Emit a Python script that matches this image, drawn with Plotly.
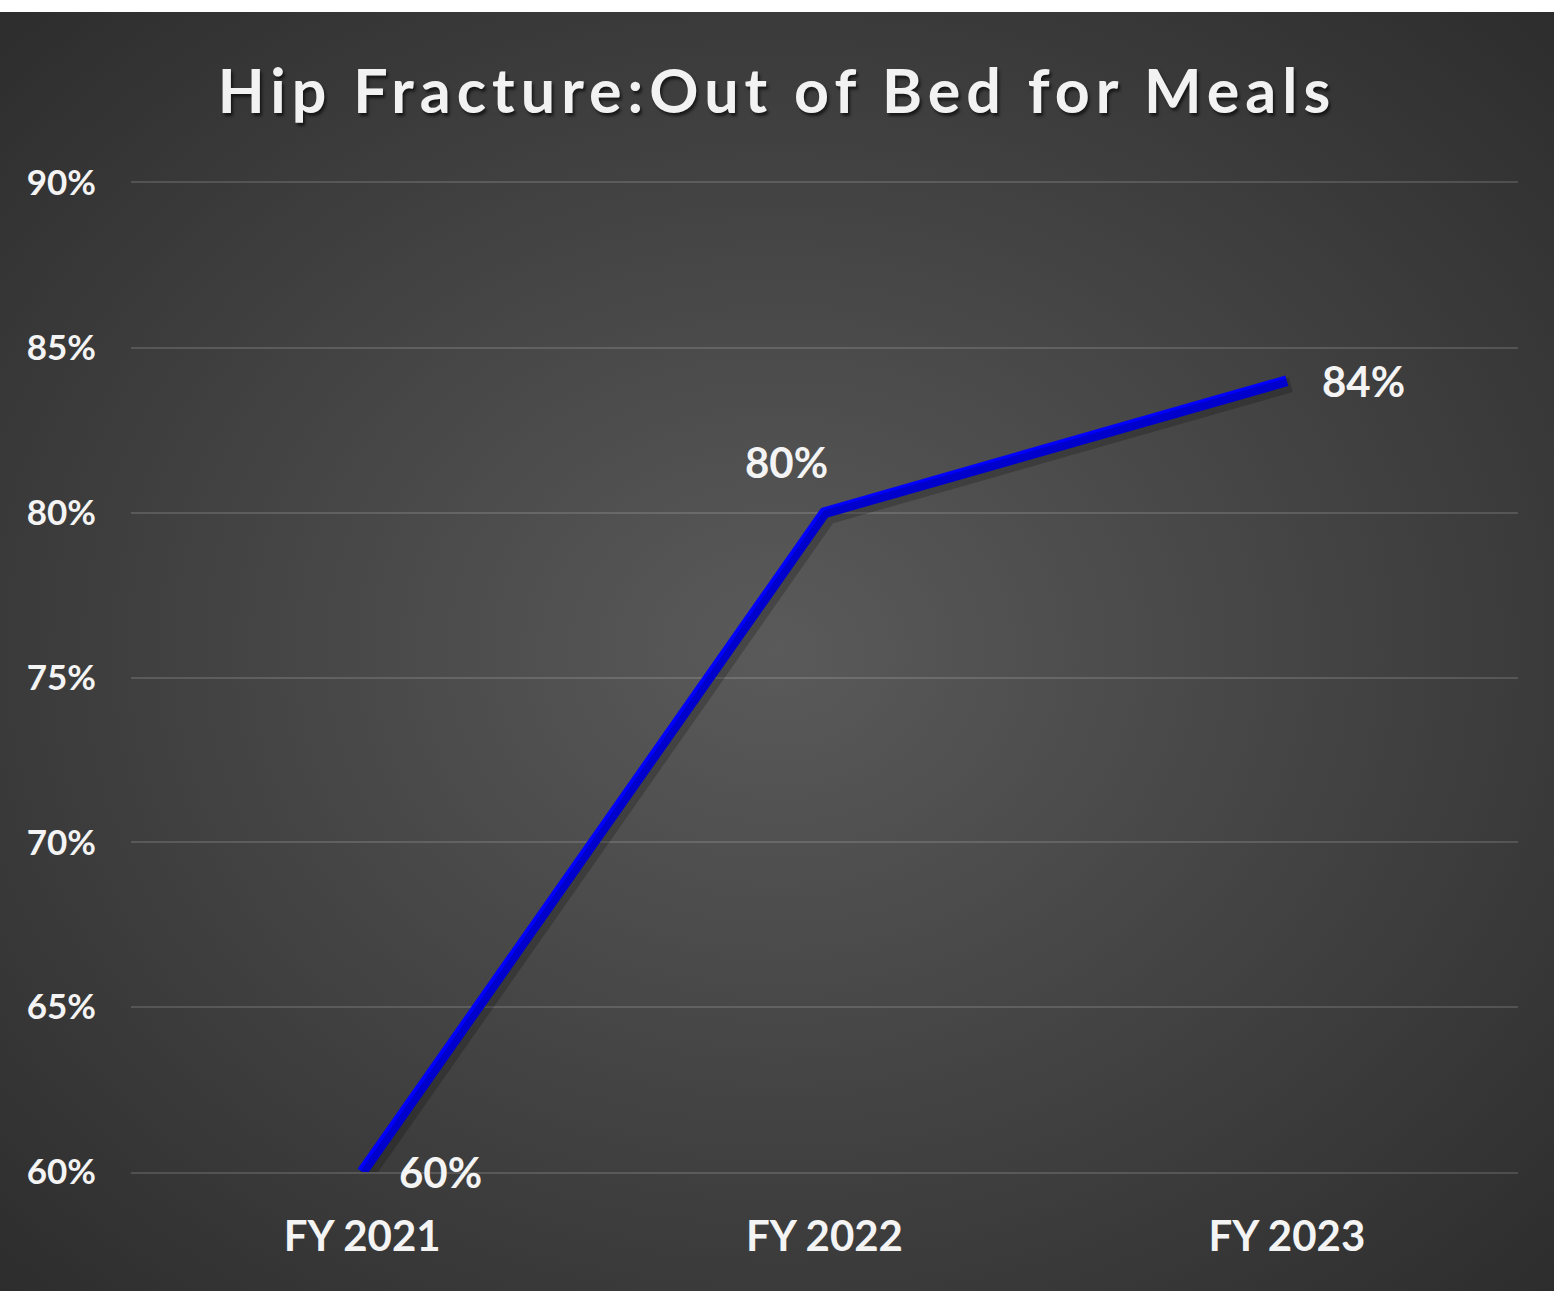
import base64
import plotly.graph_objects as go

categories = ["FY 2021", "FY 2022", "FY 2023"]
values = [0.60, 0.80, 0.84]
labels = ["60%", "80%", "84%"]
y_ticks = [0.60, 0.65, 0.70, 0.75, 0.80, 0.85, 0.90]
y_tick_text = ["60%", "65%", "70%", "75%", "80%", "85%", "90%"]

W, H = 1554, 1291
L, R, T, B = 131, 36, 183, 119
pw, ph = W - L - R, H - T - B
TOP_WHITE = 12
GRID = "rgba(255,255,255,0.14)"

svg = f"""<svg xmlns='http://www.w3.org/2000/svg' width='{W}' height='{H-TOP_WHITE}' viewBox='0 0 {W} {H-TOP_WHITE}' preserveAspectRatio='none'>
<defs><radialGradient id='g' cx='0.5' cy='0.5' r='0.72' gradientUnits='objectBoundingBox'>
<stop offset='0' stop-color='#5a5a5a'/><stop offset='1' stop-color='#2c2c2c'/></radialGradient></defs>
<rect x='0' y='0' width='{W}' height='{H-TOP_WHITE}' fill='url(#g)'/></svg>"""
src = "data:image/svg+xml;base64," + base64.b64encode(svg.encode()).decode()

fig = go.Figure()

# soft shadow under the line
fig.add_trace(go.Scatter(x=categories, y=values, mode="lines", xaxis="x2", yaxis="y2",
                         line=dict(color="rgba(0,0,0,0.2)", width=15),
                         hoverinfo="skip", showlegend=False))
fig.add_trace(go.Scatter(x=categories, y=values, mode="lines",
                         line=dict(color="#0000ff", width=11),
                         showlegend=False))

font_lbl = dict(family="Lato", size=42, color="#f4f4f4", weight="bold")
shifts = [(78, 0), (-38, 51), (77, 0)]
for c, v, t, (dx, dy) in zip(categories, values, labels, shifts):
    fig.add_annotation(x=c, y=v, text=t, showarrow=False, xshift=dx, yshift=dy,
                       font=font_lbl, xanchor="center", yanchor="middle")

fig.add_layout_image(dict(source=src, xref="paper", yref="paper",
                          x=-L / pw, y=(H - B - TOP_WHITE) / ph,
                          sizex=W / pw, sizey=(H - TOP_WHITE) / ph,
                          xanchor="left", yanchor="top", sizing="stretch", layer="below"))

xshift_u = 4 / (pw / 3)
yshift_u = 4 / (ph / 0.30)

fig.update_layout(
    width=W, height=H,
    margin=dict(l=L, r=R, t=T, b=B),
    paper_bgcolor="white",
    plot_bgcolor="rgba(0,0,0,0)",
    title=dict(text="Hip Fracture:Out of Bed for Meals", x=0.5, xref="container", xanchor="center",
               y=(H - 92) / H, yanchor="middle",
               font=dict(family="Lato", size=61, color="#f2f2f2", weight="bold",
                         shadow="2px 3px 3px rgba(0,0,0,0.6)")),
    xaxis=dict(type="category", range=[-0.5, 2.5], showgrid=False, zeroline=False,
               showline=True, mirror=True, linecolor=GRID, linewidth=2,
               ticks="", ticklabelstandoff=27,
               tickfont=dict(family="Lato", size=42, color="#f4f4f4", weight="bold")),
    yaxis=dict(range=[0.60, 0.90], tickvals=y_ticks, ticktext=y_tick_text,
               showgrid=True, gridcolor=GRID, gridwidth=2,
               zeroline=False, showline=False, ticks="", ticklabelstandoff=34,
               tickfont=dict(family="Lato", size=35, color="#f4f4f4", weight="bold")),
    xaxis2=dict(type="category", overlaying="x", range=[-0.5 - xshift_u, 2.5 - xshift_u],
                visible=False),
    yaxis2=dict(overlaying="y", range=[0.60 + yshift_u, 0.90 + yshift_u], visible=False),
)

post = """
document.body.style.margin='0';
var gd=document.getElementById('{plot_id}');
function ls(){ gd.querySelectorAll('.gtitle').forEach(function(e){ e.style.letterSpacing='6px'; }); }
ls(); setTimeout(ls, 0); setTimeout(ls, 200);
if (gd.on) { gd.on('plotly_afterplot', ls); }
"""

fig.write_html("out.html", post_script=post, config={"displayModeBar": False})
